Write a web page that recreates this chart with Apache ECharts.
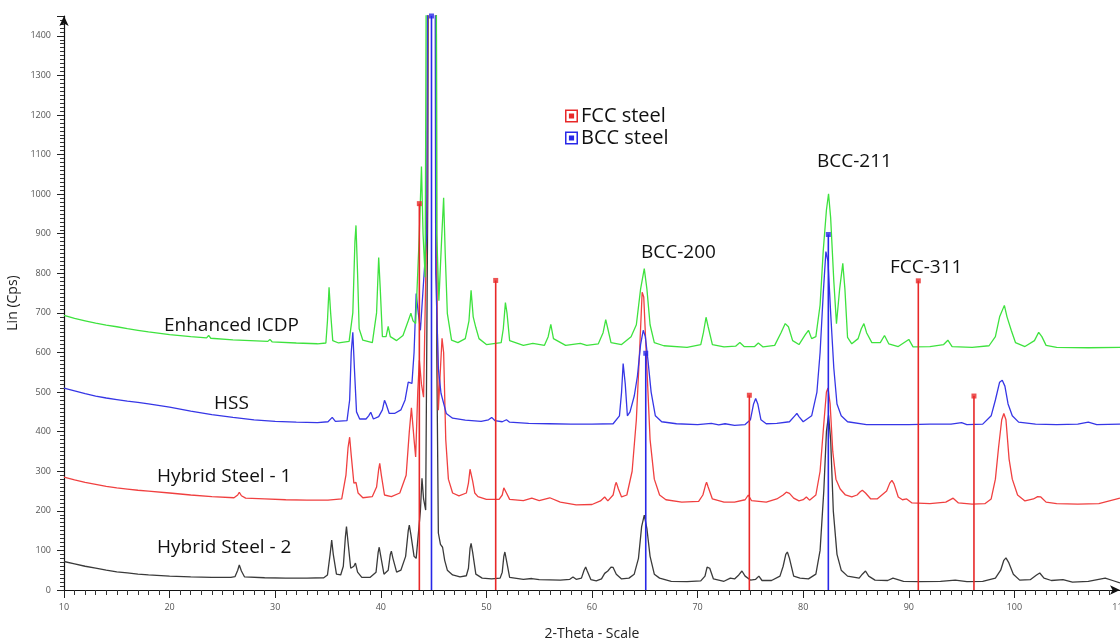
<!DOCTYPE html>
<html>
<head>
<meta charset="utf-8">
<script src="https://cdn.jsdelivr.net/npm/echarts@6/dist/echarts.min.js"></script>
<style>
html,body{margin:0;padding:0;background:#fff;}
#chart{width:1120px;height:642px;}
</style>
</head>
<body>
<div id="chart"></div>
<script>
// ---- data (2-Theta, Lin (Cps)) ----
const hybridSteel2 = [[10,72],[11,66],[12,60],[13,55],[14,50],[15,46],[16,43],[17,40],[18,38],[20,35],[22,33],[24,32],[25.8,32],
[26.2,34],[26.45,50],[26.6,63],[26.8,48],[27.1,33],[29,31],[31,30],[33,30],[34.6,31],
[34.95,38],[35.2,90],[35.35,126],[35.5,90],[35.8,40],[36.2,38],
[36.45,60],[36.65,135],[36.75,160],[36.9,120],[37.15,55],
[37.45,60],[37.6,68],[37.8,45],[38.2,32],[39,32],
[39.55,45],[39.75,95],[39.85,108],[40.0,85],[40.3,40],
[40.7,50],[40.9,90],[41.0,98],[41.15,80],[41.5,45],[41.9,50],
[42.35,85],[42.6,150],[42.7,164],[42.85,140],[43.15,85],[43.35,80],
[43.75,200],[43.9,282],[44.05,230],[44.25,202],
[44.45,1000],[44.6,3000],[45.2,3000],[45.3,600],[45.45,144],[45.65,115],
[45.85,108],[46.05,75],[46.3,50],[46.8,38],[47.5,33],[48.1,36],
[48.3,55],[48.45,105],[48.55,118],[48.7,95],[49.0,40],[49.6,30],[50.5,28],[51.3,30],
[51.5,45],[51.65,85],[51.75,96],[51.9,75],[52.2,32],[53.5,27],[54.3,29],[55,26],[57,25],
[57.9,27],[58.2,33],[58.5,27],[59.0,30],[59.25,50],[59.4,58],[59.55,48],[59.9,26],[60.4,23],[60.9,28],
[61.2,42],[61.5,48],[61.8,58],[62.0,57],[62.3,40],[62.8,28],[63.5,30],[64.0,40],
[64.4,80],[64.7,160],[64.95,189],[65.2,155],[65.5,85],[65.9,40],[66.4,30],[67.5,22],[69,21],[70.3,23],
[70.7,35],[70.9,58],[71.0,63],[71.15,55],[71.5,28],[72.5,22],[73.1,30],[73.5,28],
[73.9,38],[74.2,48],[74.5,35],[75.0,25],[75.5,27],[75.8,35],[76.1,24],[77,24],[77.8,35],
[78.1,60],[78.35,90],[78.5,96],[78.7,80],[79.1,35],[79.7,30],[80.5,28],[81.2,40],
[81.6,100],[81.95,250],[82.2,400],[82.4,441],[82.6,380],[82.85,200],[83.2,90],[83.6,50],[84.2,35],[85.3,30],
[85.6,40],[85.9,48],[86.2,35],[86.8,25],[88,24],[88.5,30],[89.5,22],[91,21],[93,22],[94.4,25],[95.5,21],[97,22],[98.2,30],
[98.7,50],[99.0,75],[99.2,81],[99.45,70],[99.9,40],[100.5,25],[101.5,26],
[102.1,38],[102.4,43],[102.8,30],[103.5,24],[104.6,26],[105.5,20],[107,22],[108.6,30],[109.3,24],[110,18]];

const hybridSteel1 = [[10,285],[11,278],[12,272],[13,267],[14,262],[15,258],[16,255],[17,252],[18,250],[20,245],[22,240],[24,236],[26.1,233],
[26.45,240],[26.6,247],[26.8,238],[27.2,232],[29,230],[31,228],[33,227],[35,227],[36.3,230],
[36.7,290],[36.9,360],[37.05,386],[37.2,340],[37.45,270],[37.65,272],[37.85,245],[38.3,233],[39.2,236],
[39.6,260],[39.8,305],[39.9,320],[40.05,290],[40.35,240],[41,236],[41.8,245],[42.4,290],
[42.7,400],[42.9,460],[43.0,455],[43.15,380],[43.3,336],
[43.5,500],[43.65,580],[43.85,520],[44.05,487],
[44.4,1000],[44.55,3000],[45.1,3000],[45.25,900],[45.45,454],
[45.65,560],[45.8,636],[45.95,600],[46.15,380],[46.4,280],[46.8,245],[47.4,238],[48.1,245],
[48.3,270],[48.45,305],[48.55,310],[48.7,275],[48.9,245],[49.2,236],[50,229],[51.2,229],
[51.5,240],[51.65,258],[51.75,260],[51.9,245],[52.2,229],[53.5,226],[54.3,232],[55,226],[56,233],[57,222],[58.5,215],[60,216],
[60.8,225],[61.2,235],[61.5,225],[62.0,240],[62.2,265],[62.3,272],[62.5,255],[62.8,235],
[63.3,240],[63.8,300],[64.2,430],[64.5,600],[64.75,752],[64.9,740],[65.2,560],[65.5,380],[65.9,280],[66.4,240],[67,228],[68.5,222],[70.1,224],
[70.5,240],[70.75,265],[70.85,272],[71.0,260],[71.4,230],[72.5,222],[73.5,222],
[74.5,228],[74.8,240],[75.1,226],[76.5,222],[77.5,230],
[78.1,240],[78.4,247],[78.7,244],[79.1,232],[79.6,225],[80.0,228],[80.3,235],[80.6,227],[81.2,240],
[81.6,300],[81.95,420],[82.2,500],[82.35,510],[82.55,470],[82.8,350],[83.1,280],[83.5,255],[84,240],[84.6,235],[85.1,240],
[85.4,248],[85.6,252],[85.9,245],[86.4,230],[87,230],
[87.9,250],[88.2,270],[88.4,277],[88.6,268],[89,235],[89.4,228],[89.8,230],[90.3,220],[92,218],[93.5,222],
[94.2,232],[94.7,220],[96,217],[97.2,218],[97.8,230],[98.2,280],[98.5,360],[98.8,430],[99.0,446],[99.2,430],[99.5,330],[99.8,280],[100.3,240],[101,225],
[101.8,230],[102.2,236],[102.5,235],[103,222],[104,218],[106,217],[108,218],[110,232]];

const hss = [[10,510],[11,503],[12,496],[13,490],[14,485],[15,481],[16,477],[17,474],[18,470],[20,462],[22,452],[24,443],[26,436],[28,430],[30,426],[32,424],[34,423],[35,425],
[35.4,436],[35.7,426],[36.8,428],
[37.05,480],[37.2,600],[37.35,651],[37.5,560],[37.7,450],[38.0,432],[38.6,432],
[38.85,440],[39.05,449],[39.3,432],[39.8,438],
[40.15,455],[40.35,479],[40.5,470],[40.8,446],[41.3,446],[41.9,455],[42.3,480],
[42.6,525],[42.75,530],[42.95,522],
[43.15,600],[43.35,749],[43.55,700],[43.75,656],
[44.35,900],[44.6,3000],[45.05,3000],[45.2,800],[45.45,560],[45.7,497],[46.2,446],[46.8,434],[48,429],[49.5,426],[50.2,430],
[50.5,436],[50.8,428],[51.5,425],[51.9,430],[52.2,424],[54,421],[56,420],[58,419],[60,419],[62,420],[62.6,440],
[62.8,500],[62.95,572],[63.15,520],[63.35,440],[63.6,450],[64.0,490],[64.3,540],[64.6,620],[64.85,656],[65.05,640],[65.3,580],[65.6,500],[66.0,440],[66.6,425],[68,420],[70,418],
[71.3,421],[72,417],[72.6,420],[73.5,416],[74.5,418],[75.0,430],
[75.3,470],[75.5,484],[75.7,470],[76.0,430],[76.5,420],[77.5,421],[78.7,425],
[79.2,440],[79.4,446],[79.6,438],[80.0,425],[80.8,440],[81.3,500],[81.6,600],[81.9,750],[82.15,855],[82.35,830],[82.6,700],[82.9,560],[83.2,470],[83.6,440],[84.2,425],[86,418],[88,418],[90,418],[92,419],[94,419],
[95.0,423],[95.5,418],[97,419],[97.8,440],[98.2,480],[98.6,525],[98.85,530],[99.1,515],[99.4,470],[99.8,440],[100.4,424],[102,419],[104,418],[106,419],
[107,424],[107.8,418],[110,419]];

const enhancedIcdp = [[10,694],[11,686],[12,680],[13,674],[14,669],[15,665],[16,660],[17,656],[18,652],[20,645],[22,640],[23.5,637],[23.7,643],[23.9,636],[26,632],[29.3,628],[29.5,633],[29.7,627],[32,624],[34,622],[34.8,624],
[34.95,680],[35.1,765],[35.25,700],[35.45,630],[36,624],[37,628],
[37.35,700],[37.55,880],[37.65,921],[37.8,800],[37.95,660],[38.3,631],[39.2,625],
[39.6,700],[39.8,840],[39.95,760],[40.15,640],[40.5,640],
[40.7,666],[40.9,640],[41.5,630],[42.1,643],
[42.6,680],[42.85,699],[43.05,680],[43.3,673],
[43.65,900],[43.85,1070],[44.0,900],[44.2,790],
[44.5,3000],[45.15,3000],[45.3,900],[45.5,731],
[45.75,880],[45.95,991],[46.1,850],[46.3,699],[46.7,631],[47.3,625],[48.0,635],
[48.35,680],[48.55,757],[48.75,690],[49.0,663],[49.3,635],[50,620],[51.4,625],
[51.6,660],[51.8,726],[51.95,700],[52.2,630],[53.5,618],[54.4,623],[55.5,618],
[55.85,640],[56.1,671],[56.35,635],[57.5,618],[58.9,623],[59.5,618],[60.6,622],
[61.05,650],[61.3,683],[61.5,660],[61.8,625],[62.8,620],[63.7,640],[64.2,670],[64.6,760],[64.95,812],[65.2,760],[65.5,670],[65.9,625],[66.8,617],[69,613],[70.3,620],
[70.55,650],[70.8,689],[71.0,665],[71.4,620],[72.5,614],[73.6,616],[74.0,625],[74.4,615],[75.4,615],[75.75,624],[76.2,614],[77.3,618],[77.9,650],
[78.3,673],[78.6,665],[79.0,630],[79.6,620],[80.2,645],
[80.5,656],[80.8,635],[81.2,640],[81.6,720],[81.9,858],[82.2,960],[82.4,1001],[82.6,940],[82.9,780],[83.15,673],[83.45,760],[83.75,825],[83.95,760],[84.2,638],[84.6,622],[85.2,635],
[85.5,660],[85.75,673],[86.0,650],[86.5,625],[87.3,625],[87.7,643],[88.1,622],[89.0,615],[90.0,633],[90.4,614],[92,615],[93.3,620],[93.7,631],[94.1,615],[96,613],
[97.6,617],[98.2,640],[98.6,690],[99.05,719],[99.3,690],[99.7,656],[100.1,625],[101,615],[101.9,630],[102.3,651],[102.6,640],[103,618],[104,613],[107,612],[110,613]];

// reference stick patterns
const fccPositions = [43.65, 50.88, 74.9, 90.9, 96.17];
const fccIntensities = [976, 782, 492, 781, 490];
const bccPositions = [44.8, 65.09, 82.38];
const bccIntensities = [1450, 598, 898];

const traceNames = ['Hybrid Steel - 2', 'Hybrid Steel - 1', 'HSS', 'Enhanced ICDP'];
const traceData = [hybridSteel2, hybridSteel1, hss, enhancedIcdp];
const traceColors = ['#3a3a3a', '#f04040', '#3636e6', '#3ee23e'];

const yTicksMax = 1450;

// ---- chart ----
const chart = echarts.init(document.getElementById('chart'), null, {renderer: 'canvas'});
const FONT = '"Open Sans", "Noto Sans", sans-serif';

const series = [];
traceData.forEach((d, i) => {
  series.push({
    type: 'line', name: traceNames[i], data: d, showSymbol: false, symbol: 'none',
    lineStyle: {color: traceColors[i], width: 1.3}, itemStyle: {color: traceColors[i]},
    z: 2 + i, silent: true, clip: true
  });
});
function sticks(name, pos, inten, color) {
  pos.forEach((x, i) => {
    series.push({
      type: 'line', name: name, data: [[x, 0], [x, inten[i]]], symbol: 'none',
      lineStyle: {color: color, width: 1.6}, itemStyle: {color: color}, z: 10, silent: true
    });
  });
  series.push({
    type: 'scatter', name: name, data: pos.map((x, i) => [x, inten[i]]),
    symbol: 'rect', symbolSize: 5, itemStyle: {color: color}, z: 11, silent: true
  });
}
sticks('FCC steel', fccPositions, fccIntensities, '#e82828');
sticks('BCC steel', bccPositions, bccIntensities, '#2828e8');

const legendIcon = 'path://M0,0L12,0L12,12L0,12Z M1.4,1.4L1.4,10.6L10.6,10.6L10.6,1.4Z M3.6,3.6L8.4,3.6L8.4,8.4L3.6,8.4Z';

function label(text, x, y) {
  return {type: 'text', x: x, y: y, style: {text: text, font: '19px ' + FONT, fill: '#111', verticalAlign: 'middle', align: 'left'}, z: 100};
}

chart.setOption({
  animation: false,
  backgroundColor: '#fff',
  grid: {left: 64, right: 0, top: 16, bottom: 52, containLabel: false, outerBoundsMode: 'none'},
  legend: {
    left: 560, top: 101, orient: 'vertical', itemWidth: 13, itemHeight: 13, itemGap: 2,
    data: [{name: 'FCC steel', icon: legendIcon}, {name: 'BCC steel', icon: legendIcon}],
    textStyle: {fontSize: 20, fontFamily: FONT, color: '#111', padding: [0, 0, 0, -2]},
    selectedMode: false
  },
  xAxis: {
    type: 'value', min: 10, max: 110, interval: 10,
    name: '2-Theta - Scale', nameLocation: 'middle', nameGap: 37,
    nameTextStyle: {fontSize: 14, fontFamily: FONT, color: '#222'},
    axisLine: {show: true, onZero: false, lineStyle: {color: '#111', width: 1.2}, symbol: ['none', 'arrow'], symbolSize: [7, 10]},
    axisTick: {show: true, length: 8, lineStyle: {color: '#222'}},
    minorTick: {show: true, splitNumber: 10, length: 5, lineStyle: {color: '#333'}},
    axisLabel: {fontSize: 9, color: '#555', fontFamily: FONT, margin: 13, formatter: v => String(v)},
    splitLine: {show: false}
  },
  yAxis: {
    type: 'value', min: 0, max: yTicksMax, interval: 100,
    name: 'Lin (Cps)', nameLocation: 'middle', nameGap: 38, nameRotate: 90,
    nameTextStyle: {fontSize: 14, fontFamily: FONT, color: '#222'},
    axisLine: {show: true, onZero: false, lineStyle: {color: '#111', width: 1.2}, symbol: ['none', 'arrow'], symbolSize: [7, 10]},
    axisTick: {show: true, length: 7, lineStyle: {color: '#222'}},
    minorTick: {show: true, splitNumber: 10, length: 4, lineStyle: {color: '#333'}},
    axisLabel: {fontSize: 9, color: '#555', fontFamily: FONT, margin: 13, showMaxLabel: false, formatter: v => String(v)},
    splitLine: {show: false}
  },
  graphic: [
    label('Enhanced ICDP', 164, 326),
    label('HSS', 214, 404),
    label('Hybrid Steel - 1', 157, 477),
    label('Hybrid Steel - 2', 157, 548),
    label('BCC-200', 641, 253),
    label('BCC-211', 817, 162),
    label('FCC-311', 890, 268)
  ],
  series: series
});
</script>
</body>
</html>
